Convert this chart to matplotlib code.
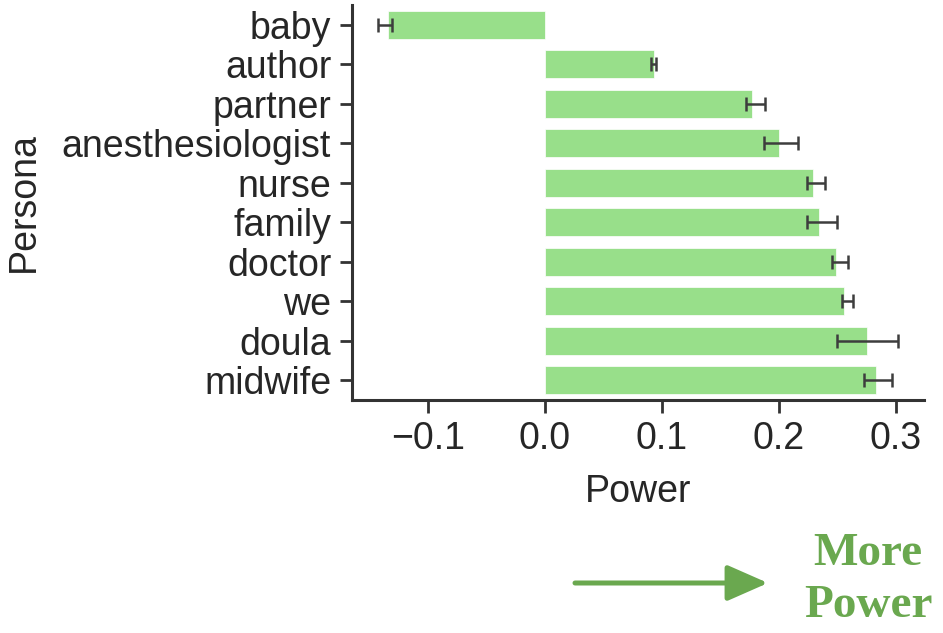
import matplotlib
matplotlib.use("Agg")
import matplotlib.pyplot as plt
import numpy as np

# persona order top -> bottom, with mean power and CI bounds
personas = ["baby", "author", "partner", "anesthesiologist", "nurse",
            "family", "doctor", "we", "doula", "midwife"]
power = [-0.134, 0.093, 0.177, 0.200, 0.229, 0.234, 0.249, 0.256, 0.275, 0.283]
ci_low = [-0.143, 0.091, 0.172, 0.187, 0.224, 0.224, 0.245, 0.254, 0.250, 0.273]
ci_high = [-0.131, 0.095, 0.188, 0.216, 0.239, 0.250, 0.259, 0.263, 0.302, 0.297]
xticks = [-0.1, 0.0, 0.1, 0.2, 0.3]

plt.rcParams["font.family"] = ["Liberation Sans", "DejaVu Sans"]
text_col = "#262626"

fig = plt.figure(figsize=(9.43, 6.33), dpi=100)
ax = fig.add_axes([352/943, 1 - 400/633, (924-352)/943, (400-5)/633])

ypos = np.arange(len(personas))
vals = np.array(power)
err = np.array([vals - np.array(ci_low), np.array(ci_high) - vals])

ax.barh(ypos, vals, height=0.72, color="#98df8a", edgecolor="white", linewidth=0.5)
ax.errorbar(vals, ypos, xerr=err, fmt="none", ecolor="#3d3d3d",
            elinewidth=1.8, capsize=5, capthick=1.8)

ax.set_ylim(len(personas) - 0.5, -0.5)
ax.set_xlim(-0.165, 0.324)
ax.set_yticks(ypos)
ax.set_yticklabels(personas)
ax.set_xticks(xticks)
ax.set_xticklabels(["\u22120.1", "0.0", "0.1", "0.2", "0.3"])

for s in ["top", "right"]:
    ax.spines[s].set_visible(False)
for s in ["left", "bottom"]:
    ax.spines[s].set_linewidth(2.2)
    ax.spines[s].set_color("#333333")
ax.tick_params(axis="both", length=9, width=2, color="#333333",
               labelsize=27, labelcolor=text_col, pad=6)
ax.set_xlabel("Power", fontsize=27, color=text_col, labelpad=12)
ax.set_ylabel("Persona", fontsize=27, color=text_col, labelpad=14)

green = "#6aa84f"
ax.annotate("", xy=(768/943, 1 - 583/633), xytext=(575/943, 1 - 583/633),
            xycoords="figure fraction", textcoords="figure fraction",
            arrowprops=dict(arrowstyle="-|>,head_length=0.5,head_width=0.22",
                            color=green, lw=3.6,
                            mutation_scale=50, shrinkA=0, shrinkB=0))
fig.text(868/943, 1 - 580/633, "More\nPower", ha="center", va="center",
         fontsize=34, fontweight="bold", color=green,
         family=["Liberation Serif", "DejaVu Serif"], linespacing=1.3)

fig.savefig("out.png", dpi=100)
